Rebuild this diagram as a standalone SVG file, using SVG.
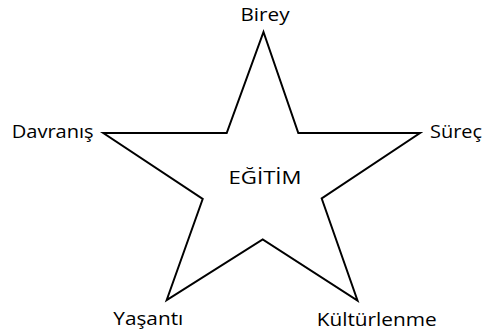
<svg xmlns="http://www.w3.org/2000/svg" width="482" height="334" viewBox="0 0 482 334">
<style>
.t{font-family:"Open Sans","Liberation Sans",sans-serif;font-size:18px;fill:#000}
.star{fill:#fff;stroke:#000;stroke-width:2;stroke-linejoin:miter}
</style>
<rect width="482" height="334" fill="#fff"/>
<g id="star">
<polygon class="star" points="263.5,32 298.3,133 420,133 321.7,198.5 357.5,300.5 262.7,239.5 166.7,300 202.7,199 103.3,133 226.7,133"/>
</g>
<g id="center"><text class="t" x="265" y="184" text-anchor="middle" textLength="73" lengthAdjust="spacingAndGlyphs">EĞİTİM</text></g>
<g id="birey"><text class="t" x="265" y="21" text-anchor="middle" textLength="49" lengthAdjust="spacingAndGlyphs">Birey</text></g>
<g id="davranis"><text class="t" x="11.7" y="137.5" textLength="82" lengthAdjust="spacingAndGlyphs">Davranış</text></g>
<g id="surec"><text class="t" x="430" y="137.5" textLength="52" lengthAdjust="spacingAndGlyphs">Süreç</text></g>
<g id="yasanti"><text class="t" x="113.3" y="325" textLength="70" lengthAdjust="spacingAndGlyphs">Yaşantı</text></g>
<g id="kulturlenme"><text class="t" x="316.7" y="325.5" textLength="120" lengthAdjust="spacingAndGlyphs">Kültürlenme</text></g>
<g id="connectors"></g>
</svg>
